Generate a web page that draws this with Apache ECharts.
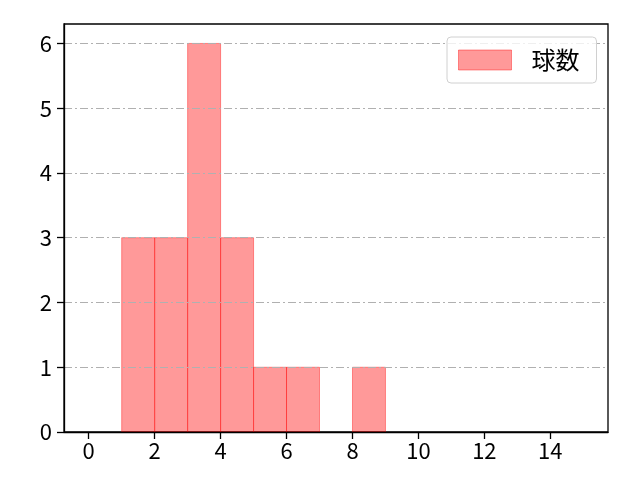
<!DOCTYPE html>
<html><head><meta charset="utf-8">
<script src="https://cdn.jsdelivr.net/npm/echarts@6/dist/echarts.min.js"></script>
<style>html,body{margin:0;padding:0;background:#fff}#c{width:640px;height:480px}</style>
</head><body><div id="c"></div>
<script>
const binStarts = [1, 2, 3, 4, 5, 6, 8];
const binEnds   = [2, 3, 4, 5, 6, 7, 9];
const counts    = [3, 3, 6, 3, 1, 1, 1];
const xTicks = [0, 2, 4, 6, 8, 10, 12, 14];
const yTicks = [0, 1, 2, 3, 4, 5, 6];
const seriesName = '球数';

const data = binStarts.map((s, i) => [s, binEnds[i], counts[i]]);
const font = 'Noto Sans CJK JP';
const chart = echarts.init(document.getElementById('c'));
chart.setOption({
  animation: false,
  grid: { left: 64, right: 32, top: 24, bottom: 48, show: true, borderColor: '#000', borderWidth: 1.3, backgroundColor: 'transparent', z: 0 },
  legend: {
    left: 447, top: 37, icon: 'rect', itemWidth: 53, itemHeight: 20, itemGap: 10,
    padding: [11, 17, 11, 11], borderColor: '#d0d0d0', borderWidth: 1, borderRadius: 4,
    backgroundColor: 'rgba(255,255,255,0.8)',
    textStyle: { fontFamily: font, fontSize: 24, lineHeight: 24, color: '#000', padding: [0, 0, 0, 15] },
    data: [{ name: seriesName, itemStyle: { color: 'rgba(255,0,0,0.4)', borderColor: 'rgba(255,0,0,0.4)', borderWidth: 1 } }]
  },
  xAxis: {
    type: 'value', min: -0.75, max: 15.75, z: 3,
    axisLine: { show: true, onZero: false, lineStyle: { color: '#000', width: 1.3 } },
    axisTick: { show: true, customValues: xTicks, length: 7, lineStyle: { color: '#000', width: 1.3 } },
    axisLabel: { customValues: xTicks, fontFamily: font, fontSize: 22, color: '#000', margin: 8 },
    splitLine: { show: false }
  },
  yAxis: {
    type: 'value', min: 0, max: 6.3, interval: 1, z: 3,
    axisLine: { show: true, onZero: false, lineStyle: { color: '#000', width: 1.3 } },
    axisTick: { show: true, customValues: yTicks, length: 7, lineStyle: { color: '#000', width: 1.3 } },
    axisLabel: { customValues: yTicks, fontFamily: font, fontSize: 22, color: '#000', margin: 12 },
    splitLine: { show: true, lineStyle: { color: '#b0b0b0', width: 1, type: [8, 3, 2, 3] } }
  },
  series: [{
    name: seriesName, type: 'custom', z: 1,
    encode: { x: [0, 1], y: 2 },
    data: data,
    renderItem: function (params, api) {
      const p0 = api.coord([api.value(0), api.value(2)]);
      const p1 = api.coord([api.value(1), 0]);
      return {
        type: 'rect',
        shape: { x: p0[0], y: p0[1], width: p1[0] - p0[0], height: p1[1] - p0[1] },
        style: { fill: 'rgba(255,0,0,0.4)', stroke: 'rgba(255,0,0,0.4)', lineWidth: 1 }
      };
    },
    itemStyle: { color: 'rgba(255,0,0,0.4)' }
  }]
});
</script></body></html>
